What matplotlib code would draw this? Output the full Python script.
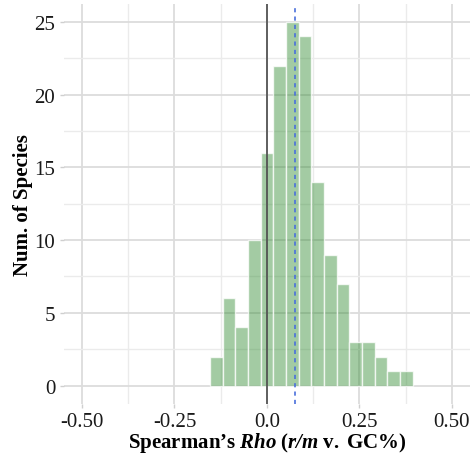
import matplotlib
matplotlib.use("Agg")
import matplotlib.pyplot as plt
import numpy as np
from matplotlib.ticker import MultipleLocator, FixedLocator, FixedFormatter

plt.rcParams['font.family'] = ['Liberation Serif', 'DejaVu Serif']
plt.rcParams['mathtext.fontset'] = 'custom'
plt.rcParams['mathtext.rm'] = 'Liberation Serif'
plt.rcParams['mathtext.it'] = 'Liberation Serif:italic'
plt.rcParams['mathtext.bf'] = 'Liberation Serif:bold'
plt.rcParams['mathtext.bfit'] = 'Liberation Serif:bold:italic'

# Data (histogram of Spearman's rho per species)
bin_start = -0.154
bin_width = 0.0343
counts = [2, 6, 4, 10, 16, 22, 25, 24, 14, 9, 7, 3, 3, 2, 1, 1]
mean_rho = 0.076
x_ticks = [-0.50, -0.25, 0.0, 0.25, 0.50]
x_tick_labels = ["-0.50", "-0.25", "0.0", "0.25", "0.50"]
y_ticks = [0, 5, 10, 15, 20, 25]

edges = bin_start + bin_width * np.arange(len(counts) + 1)
lefts = edges[:-1]

fig = plt.figure(figsize=(4.75, 4.64), dpi=100)
W, H = 475, 464
ax = fig.add_axes([63.6 / W, 1 - 404.8 / H, (470.2 - 63.6) / W, (404.8 - 4.7) / H])

ax.set_xlim(-0.55, 0.55)
ax.set_ylim(-1.25, 26.25)

ax.xaxis.set_major_locator(FixedLocator(x_ticks))
ax.xaxis.set_major_formatter(FixedFormatter(x_tick_labels))
ax.xaxis.set_minor_locator(MultipleLocator(0.125))
ax.yaxis.set_major_locator(FixedLocator(y_ticks))
ax.yaxis.set_minor_locator(MultipleLocator(2.5))

ax.grid(which='major', color='#dcdcdc', linewidth=1.3)
ax.grid(which='minor', color='#ebebeb', linewidth=1.0)
ax.set_axisbelow(True)
for s in ax.spines.values():
    s.set_visible(False)

ax.tick_params(which='major', length=3, width=1.0, color='#cfcfcf', labelsize=15,
               labelcolor='#1a1a1a', pad=3)
ax.tick_params(which='minor', length=0)

ax.bar(lefts, counts, width=bin_width, align='edge',
       facecolor=(0.2, 0.55, 0.2, 0.45), edgecolor=(1, 1, 1, 0.75), linewidth=1.0, zorder=2)

ax.axvline(0, color='#555555', linewidth=1.3, zorder=3)
ax.axvline(mean_rho, color='#4a6fdc', linewidth=1.2, linestyle=(0, (2.5, 2.5)), zorder=3)

ax.set_xlabel("$\\mathbf{Spearman\u2019s\\ }\\mathbfit{Rho}\\mathbf{\\ (}\\mathbfit{r/m}\\mathbf{\\ v.\\ GC\\%)}$",
              fontsize=15, labelpad=-1)
ax.set_ylabel("Num. of Species", fontsize=15, fontweight='bold', labelpad=1)

fig.savefig("out.png", dpi=100)
